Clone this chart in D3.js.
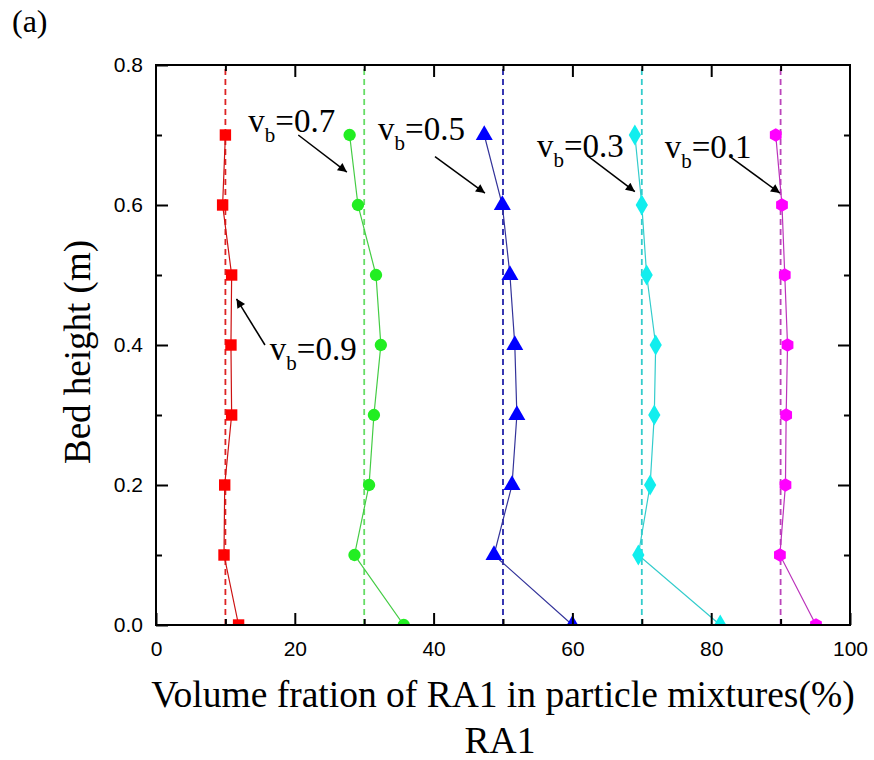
<!DOCTYPE html>
<html>
<head>
<meta charset="utf-8">
<script src="https://cdn.jsdelivr.net/npm/d3@7"></script>
<style>
  html, body { margin: 0; padding: 0; background: #fff; }
  svg { display: block; }
</style>
</head>
<body>
<svg id="chart" width="874" height="760"></svg>
<script>
// ---- data ----
const heights = [0.0, 0.1, 0.2, 0.3, 0.4, 0.5, 0.6, 0.7];
const vb09 = [11.9, 9.8, 9.9, 10.9, 10.8, 10.9, 9.6, 10.0];
const vb07 = [35.7, 28.6, 30.7, 31.4, 32.4, 31.7, 29.1, 27.9];
const vb05 = [60.0, 48.7, 51.3, 52.0, 51.7, 51.0, 49.9, 47.3];
const vb03 = [81.3, 69.5, 71.2, 71.8, 72.0, 70.7, 70.0, 69.0];
const vb01 = [95.1, 89.9, 90.7, 90.8, 91.0, 90.6, 90.2, 89.3];
const seriesLabels = ["0.9", "0.7", "0.5", "0.3", "0.1"];
const referenceLines = [10, 30, 50, 70, 90];
const xTicks = [0, 20, 40, 60, 80, 100];
const yTicks = [0.0, 0.2, 0.4, 0.6, 0.8];

// ---- styles ----
const seriesStyle = [
  { values: vb09, marker: d3.symbolSquare,   size: 130, fill: "#ff0000", line: "#cc1111", dash: "#dd2222" },
  { values: vb07, marker: d3.symbolCircle,   size: 120, fill: "#22ee22", line: "#44cc44", dash: "#66dd66" },
  { values: vb05, marker: d3.symbolTriangle, size: 125, fill: "#0000ff", line: "#33339a", dash: "#2222aa" },
  { values: vb03, marker: d3.symbolDiamond,  size: 130, fill: "#11eeee", line: "#33cccc", dash: "#33cccc" },
  { values: vb01, marker: "hex",             size: 6.8, fill: "#ff00ff", line: "#bb33bb", dash: "#bb44bb" }
];

// annotation layout in data units: text start, baseline, arrow tail, arrow head
const annotations = [
  { s: 0, tx: 16.4, ty: 0.379, ax1: 15.7, ay1: 0.400, ax2: 11.6, ay2: 0.466 },
  { s: 1, tx: 13.3, ty: 0.704, ax1: 20.5, ay1: 0.700, ax2: 27.5, ay2: 0.647 },
  { s: 2, tx: 32.0, ty: 0.693, ax1: 40.2, ay1: 0.669, ax2: 47.4, ay2: 0.617 },
  { s: 3, tx: 54.9, ty: 0.669, ax1: 62.1, ay1: 0.671, ax2: 69.0, ay2: 0.619 },
  { s: 4, tx: 73.3, ty: 0.667, ax1: 82.7, ay1: 0.669, ax2: 89.9, ay2: 0.617 }
];

const svg = d3.select("#chart");
const L = 156, T = 65, R = 850, B = 625;

const x = d3.scaleLinear().domain([0, 100]).range([L, R]);
const y = d3.scaleLinear().domain([0, 0.8]).range([B, T]);

svg.append("defs").append("clipPath").attr("id", "plotclip")
  .append("rect").attr("x", L).attr("y", T).attr("width", R - L).attr("height", B - T);

svg.append("defs").append("marker")
  .attr("id", "arrowhead").attr("viewBox", "0 0 10 10")
  .attr("refX", 10).attr("refY", 5)
  .attr("markerWidth", 13).attr("markerHeight", 9)
  .attr("markerUnits", "userSpaceOnUse")
  .attr("orient", "auto")
  .append("path").attr("d", "M0,0 L10,5 L0,10 Z").attr("fill", "#000");

const plot = svg.append("g").attr("clip-path", "url(#plotclip)");

// reference dashed lines
referenceLines.forEach((v, i) => {
  plot.append("line")
    .attr("x1", x(v)).attr("x2", x(v))
    .attr("y1", y(0)).attr("y2", y(0.8))
    .attr("stroke", seriesStyle[i].dash)
    .attr("stroke-width", 1.8)
    .attr("stroke-dasharray", "6,4");
});

// series lines and markers
const lineGen = d3.line().x(d => x(d[0])).y(d => y(d[1]));
function hexPath(r) {
  const pts = d3.range(6).map(k => {
    const a = Math.PI / 6 + k * Math.PI / 3;
    return [r * Math.cos(a), r * Math.sin(a)];
  });
  return "M" + pts.map(p => p.join(",")).join("L") + "Z";
}

seriesStyle.forEach(st => {
  const pts = st.values.map((v, i) => [v, heights[i]]);
  plot.append("path")
    .attr("d", lineGen(pts))
    .attr("fill", "none")
    .attr("stroke", st.line)
    .attr("stroke-width", 1.2);
  const sym = st.marker === "hex" ? hexPath(st.size) : d3.symbol().type(st.marker).size(st.size)();
  plot.selectAll(null).data(pts).enter().append("path")
    .attr("d", sym)
    .attr("transform", d => `translate(${x(d[0])},${y(d[1])})`)
    .attr("fill", st.fill);
});

// axes frame
svg.append("rect")
  .attr("x", L).attr("y", T).attr("width", R - L).attr("height", B - T)
  .attr("fill", "none").attr("stroke", "#000").attr("stroke-width", 2);

function styleAxis(g) {
  g.select(".domain").remove();
  g.selectAll(".tick line").attr("stroke", "#000").attr("stroke-width", 2);
  g.selectAll("text").attr("font-family", "'Liberation Sans', Arial, sans-serif")
    .attr("font-size", 21).attr("fill", "#000");
}

svg.append("g").attr("transform", `translate(0,${B})`)
  .call(d3.axisBottom(x).tickValues(xTicks).tickSize(-12).tickPadding(16).tickFormat(d3.format("d")))
  .call(styleAxis);
svg.append("g").attr("transform", `translate(0,${B})`)
  .call(d3.axisBottom(x).tickValues(d3.range(10, 100, 20)).tickSize(-6).tickFormat(""))
  .call(styleAxis);
svg.append("g").attr("transform", `translate(0,${T})`)
  .call(d3.axisTop(x).tickValues(xTicks.slice(1, -1)).tickSize(-12).tickFormat(""))
  .call(styleAxis);
svg.append("g").attr("transform", `translate(0,${T})`)
  .call(d3.axisTop(x).tickValues(d3.range(10, 100, 20)).tickSize(-6).tickFormat(""))
  .call(styleAxis);

svg.append("g").attr("transform", `translate(${L},0)`)
  .call(d3.axisLeft(y).tickValues(yTicks).tickSize(-12).tickPadding(13).tickFormat(d3.format(".1f")))
  .call(styleAxis);
svg.append("g").attr("transform", `translate(${L},0)`)
  .call(d3.axisLeft(y).tickValues([0.1, 0.3, 0.5, 0.7]).tickSize(-6).tickFormat(""))
  .call(styleAxis);
svg.append("g").attr("transform", `translate(${R},0)`)
  .call(d3.axisRight(y).tickValues(yTicks.slice(1, -1)).tickSize(-12).tickFormat(""))
  .call(styleAxis);
svg.append("g").attr("transform", `translate(${R},0)`)
  .call(d3.axisRight(y).tickValues([0.1, 0.3, 0.5, 0.7]).tickSize(-6).tickFormat(""))
  .call(styleAxis);

// annotations
const serif = "'Liberation Serif', 'Times New Roman', serif";
annotations.forEach(a => {
  svg.append("line")
    .attr("x1", x(a.ax1)).attr("y1", y(a.ay1))
    .attr("x2", x(a.ax2)).attr("y2", y(a.ay2))
    .attr("stroke", "#000").attr("stroke-width", 1.5)
    .attr("marker-end", "url(#arrowhead)");
  const t = svg.append("text")
    .attr("x", x(a.tx)).attr("y", y(a.ty))
    .attr("font-family", serif).attr("font-size", 33).attr("fill", "#000");
  t.append("tspan").text("v");
  t.append("tspan").attr("dy", 10).attr("font-size", 21).text("b");
  t.append("tspan").attr("dy", -10).text("=" + seriesLabels[a.s]);
});

// titles
svg.append("text")
  .attr("x", 503).attr("y", 707)
  .attr("text-anchor", "middle")
  .attr("font-family", serif).attr("font-size", 37.5).attr("fill", "#000")
  .text("Volume fration of RA1 in particle mixtures(%)");
svg.append("text")
  .attr("x", 500).attr("y", 753)
  .attr("text-anchor", "middle")
  .attr("font-family", serif).attr("font-size", 37.5).attr("fill", "#000")
  .text("RA1");
svg.append("text")
  .attr("transform", `translate(90,352) rotate(-90)`)
  .attr("text-anchor", "middle")
  .attr("font-family", serif).attr("font-size", 37).attr("fill", "#000")
  .text("Bed height (m)");
svg.append("text")
  .attr("x", 12).attr("y", 32)
  .attr("font-family", serif).attr("font-size", 32).attr("fill", "#000")
  .text("(a)");
</script>
</body>
</html>
